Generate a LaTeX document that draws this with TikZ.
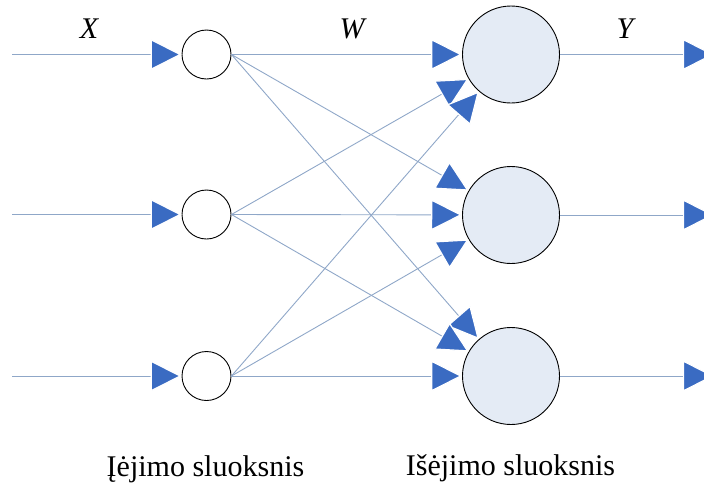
\documentclass[tikz,border=0pt]{standalone}
\usepackage{fontspec}
\setmainfont{Liberation Serif}
\usetikzlibrary{arrows.meta}
\definecolor{arrowblue}{HTML}{3A6BC2}
\definecolor{linec}{HTML}{8FA7C8}
\definecolor{outfill}{HTML}{E4EBF5}
\tikzset{
  inneuron/.style={circle,draw=black,line width=0.9pt,fill=white,minimum size=49pt,inner sep=0pt},
  outneuron/.style={circle,draw=black,line width=0.9pt,fill=outfill,minimum size=97pt,inner sep=0pt},
  conn/.style={draw=linec,line width=0.9pt,-{Triangle[length=31pt,width=31pt,color=white,fill=arrowblue,line width=1.2pt]}},
  lbl/.style={font=\fontsize{30}{36}\selectfont\itshape,anchor=base,inner sep=0pt},
  captiontext/.style={font=\fontsize{30}{36}\selectfont,anchor=base,inner sep=0pt}
}
\begin{document}
\begin{tikzpicture}[x=1pt,y=-1pt]
\useasboundingbox (0,0) rectangle (704,485);
\node[inneuron] (i1) at (206.5,54.5) {};
\node[inneuron] (i2) at (206.5,214.5) {};
\node[inneuron] (i3) at (206.5,376) {};
\node[outneuron] (o1) at (511,54.5) {};
\node[outneuron] (o2) at (511,215) {};
\node[outneuron] (o3) at (511,376) {};
\coordinate (s1) at (12,54.5);
\coordinate (s2) at (12,214.5);
\coordinate (s3) at (12,376);
\coordinate (e1) at (714,54.5);
\coordinate (e2) at (714,215);
\coordinate (e3) at (714,376);
\draw[conn] (s1) -- (i1);
\draw[conn] (s2) -- (i2);
\draw[conn] (s3) -- (i3);
\foreach \i in {1,2,3}{
  \foreach \o in {1,2,3}{
    \draw[conn] (i\i.east) -- (o\o);
  }
}
\draw[conn] (o1) -- (e1);
\draw[conn] (o2) -- (e2);
\draw[conn] (o3) -- (e3);
\node[lbl] (lx) at (89,38) {X};
\node[lbl] (lw) at (352,38) {W};
\node[lbl] (ly) at (625,38) {Y};
\node[captiontext] (c1) at (205.5,476) {Įėjimo sluoksnis};
\node[captiontext] (c2) at (510.5,475) {Išėjimo sluoksnis};
\end{tikzpicture}
\end{document}
